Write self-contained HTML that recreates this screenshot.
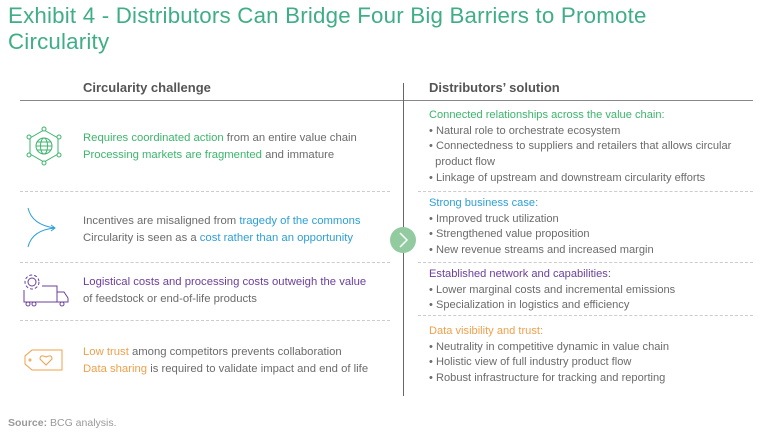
<!DOCTYPE html>
<html><head><meta charset="utf-8"><style>
body{margin:0;width:768px;height:438px;background:#fff;font-family:"Liberation Sans",sans-serif;position:relative;overflow:hidden;color:#6b6b6b}
.a{position:absolute;white-space:nowrap}
.t{font-size:22.3px;color:#3fae86;left:8px;letter-spacing:0.2px}
.h{font-size:13px;font-weight:bold;color:#555}
.l{font-size:11.3px;left:83px;line-height:17px}
.r{font-size:11.1px;left:429px;line-height:15.7px}
.g{color:#3cb56c}.b{color:#2d9fd6}.p{color:#6b3f9c}.o{color:#f0a04b}
.dl{position:absolute;border-top:1px dashed #ccc;height:0}
</style></head><body>
<div class="a t" style="top:3px">Exhibit 4 - Distributors Can Bridge Four Big Barriers to Promote</div>
<div class="a t" style="top:29px">Circularity</div>
<div class="a h" style="left:83px;top:80px">Circularity challenge</div>
<div class="a h" style="left:429px;top:80px">Distributors’ solution</div>
<div style="position:absolute;left:20px;top:100px;width:733px;border-top:1px solid #888"></div>
<div style="position:absolute;left:403px;top:83px;height:313px;border-left:1px solid #666"></div>
<div class="dl" style="left:20px;top:191px;width:370px"></div>
<div class="dl" style="left:20px;top:262px;width:370px"></div>
<div class="dl" style="left:20px;top:320px;width:370px"></div>
<div class="dl" style="left:418px;top:191px;width:335px"></div>
<div class="dl" style="left:418px;top:262px;width:335px"></div>
<div class="dl" style="left:418px;top:315px;width:335px"></div>

<div class="a l" style="top:130px"><span class="g">Requires coordinated action</span> from an entire value chain<br><span class="g">Processing markets are fragmented</span> and immature</div>
<div class="a l" style="top:213px">Incentives are misaligned from <span class="b">tragedy of the commons</span><br>Circularity is seen as a <span class="b">cost rather than an opportunity</span></div>
<div class="a l" style="top:274px"><span class="p">Logistical costs and processing costs outweigh the value</span><br>of feedstock or end-of-life products</div>
<div class="a l" style="top:344px"><span class="o">Low trust</span> among competitors prevents collaboration<br><span class="o">Data sharing</span> is required to validate impact and end of life</div>

<div class="a r" style="top:108px"><span class="g">Connected relationships across the value chain:</span><br>• Natural role to orchestrate ecosystem<br>• Connectedness to suppliers and retailers that allows circular<br>&nbsp;&nbsp;product flow<br>• Linkage of upstream and downstream circularity efforts</div>
<div class="a r" style="top:196px"><span class="b">Strong business case:</span><br>• Improved truck utilization<br>• Strengthened value proposition<br>• New revenue streams and increased margin</div>
<div class="a r" style="top:267px"><span class="p">Established network and capabilities:</span><br>• Lower marginal costs and incremental emissions<br>• Specialization in logistics and efficiency</div>
<div class="a r" style="top:324px"><span class="o">Data visibility and trust:</span><br>• Neutrality in competitive dynamic in value chain<br>• Holistic view of full industry product flow<br>• Robust infrastructure for tracking and reporting</div>

<div class="a" style="left:8px;top:417px;font-size:10.5px;color:#999"><b>Source:</b> BCG analysis.</div>

<svg style="position:absolute;left:0;top:0" width="768" height="438">
<circle cx="403" cy="240" r="13" fill="#92cba0"/>
<path d="M400 233 L407 240 L400 247" fill="none" stroke="#fff" stroke-width="1.5"/>
<g fill="none" stroke="#3cb56c" stroke-width="1">
<polygon points="44,130 58,138 58,154 44,162 30,154 30,138"/>
<circle cx="44" cy="146" r="8"/><ellipse cx="44" cy="146" rx="3.5" ry="8"/>
<line x1="36" y1="146" x2="52" y2="146"/><line x1="37" y1="142" x2="51" y2="142"/><line x1="37" y1="150" x2="51" y2="150"/>
<circle cx="44" cy="129" r="2" fill="#fff"/><circle cx="44" cy="163" r="2" fill="#fff"/>
<circle cx="29" cy="137" r="2" fill="#fff"/><circle cx="59" cy="137" r="2" fill="#fff"/>
<circle cx="29" cy="155" r="2" fill="#fff"/><circle cx="59" cy="155" r="2" fill="#fff"/>
</g>
<g fill="none" stroke="#2d9fd6" stroke-width="1">
<path d="M28 208 Q32 225 55 228"/><path d="M28 247 Q32 230 55 228"/><path d="M51 225 L55 228 L51 231"/>
</g>
<g fill="none" stroke="#6b3f9c" stroke-width="1">
<circle cx="32" cy="282" r="4"/><circle cx="32" cy="282" r="7" stroke-dasharray="3 2"/>
<path d="M42 286 H57 V302 H24 V290"/><path d="M57 292 H64 L68 298 V302 H57"/>
<circle cx="28" cy="304" r="2"/><circle cx="34" cy="304" r="2"/><circle cx="62" cy="304" r="2"/>
</g>
<g fill="none" stroke="#f0a04b" stroke-width="1">
<path d="M32 350 H62 V370 H32 L25 364 V356 Z"/><circle cx="30" cy="360" r="1"/>
<path d="M46 365 L40 359 Q40 354 46 357 Q52 354 52 359 Z"/>
</g>
</svg>
</body></html>
